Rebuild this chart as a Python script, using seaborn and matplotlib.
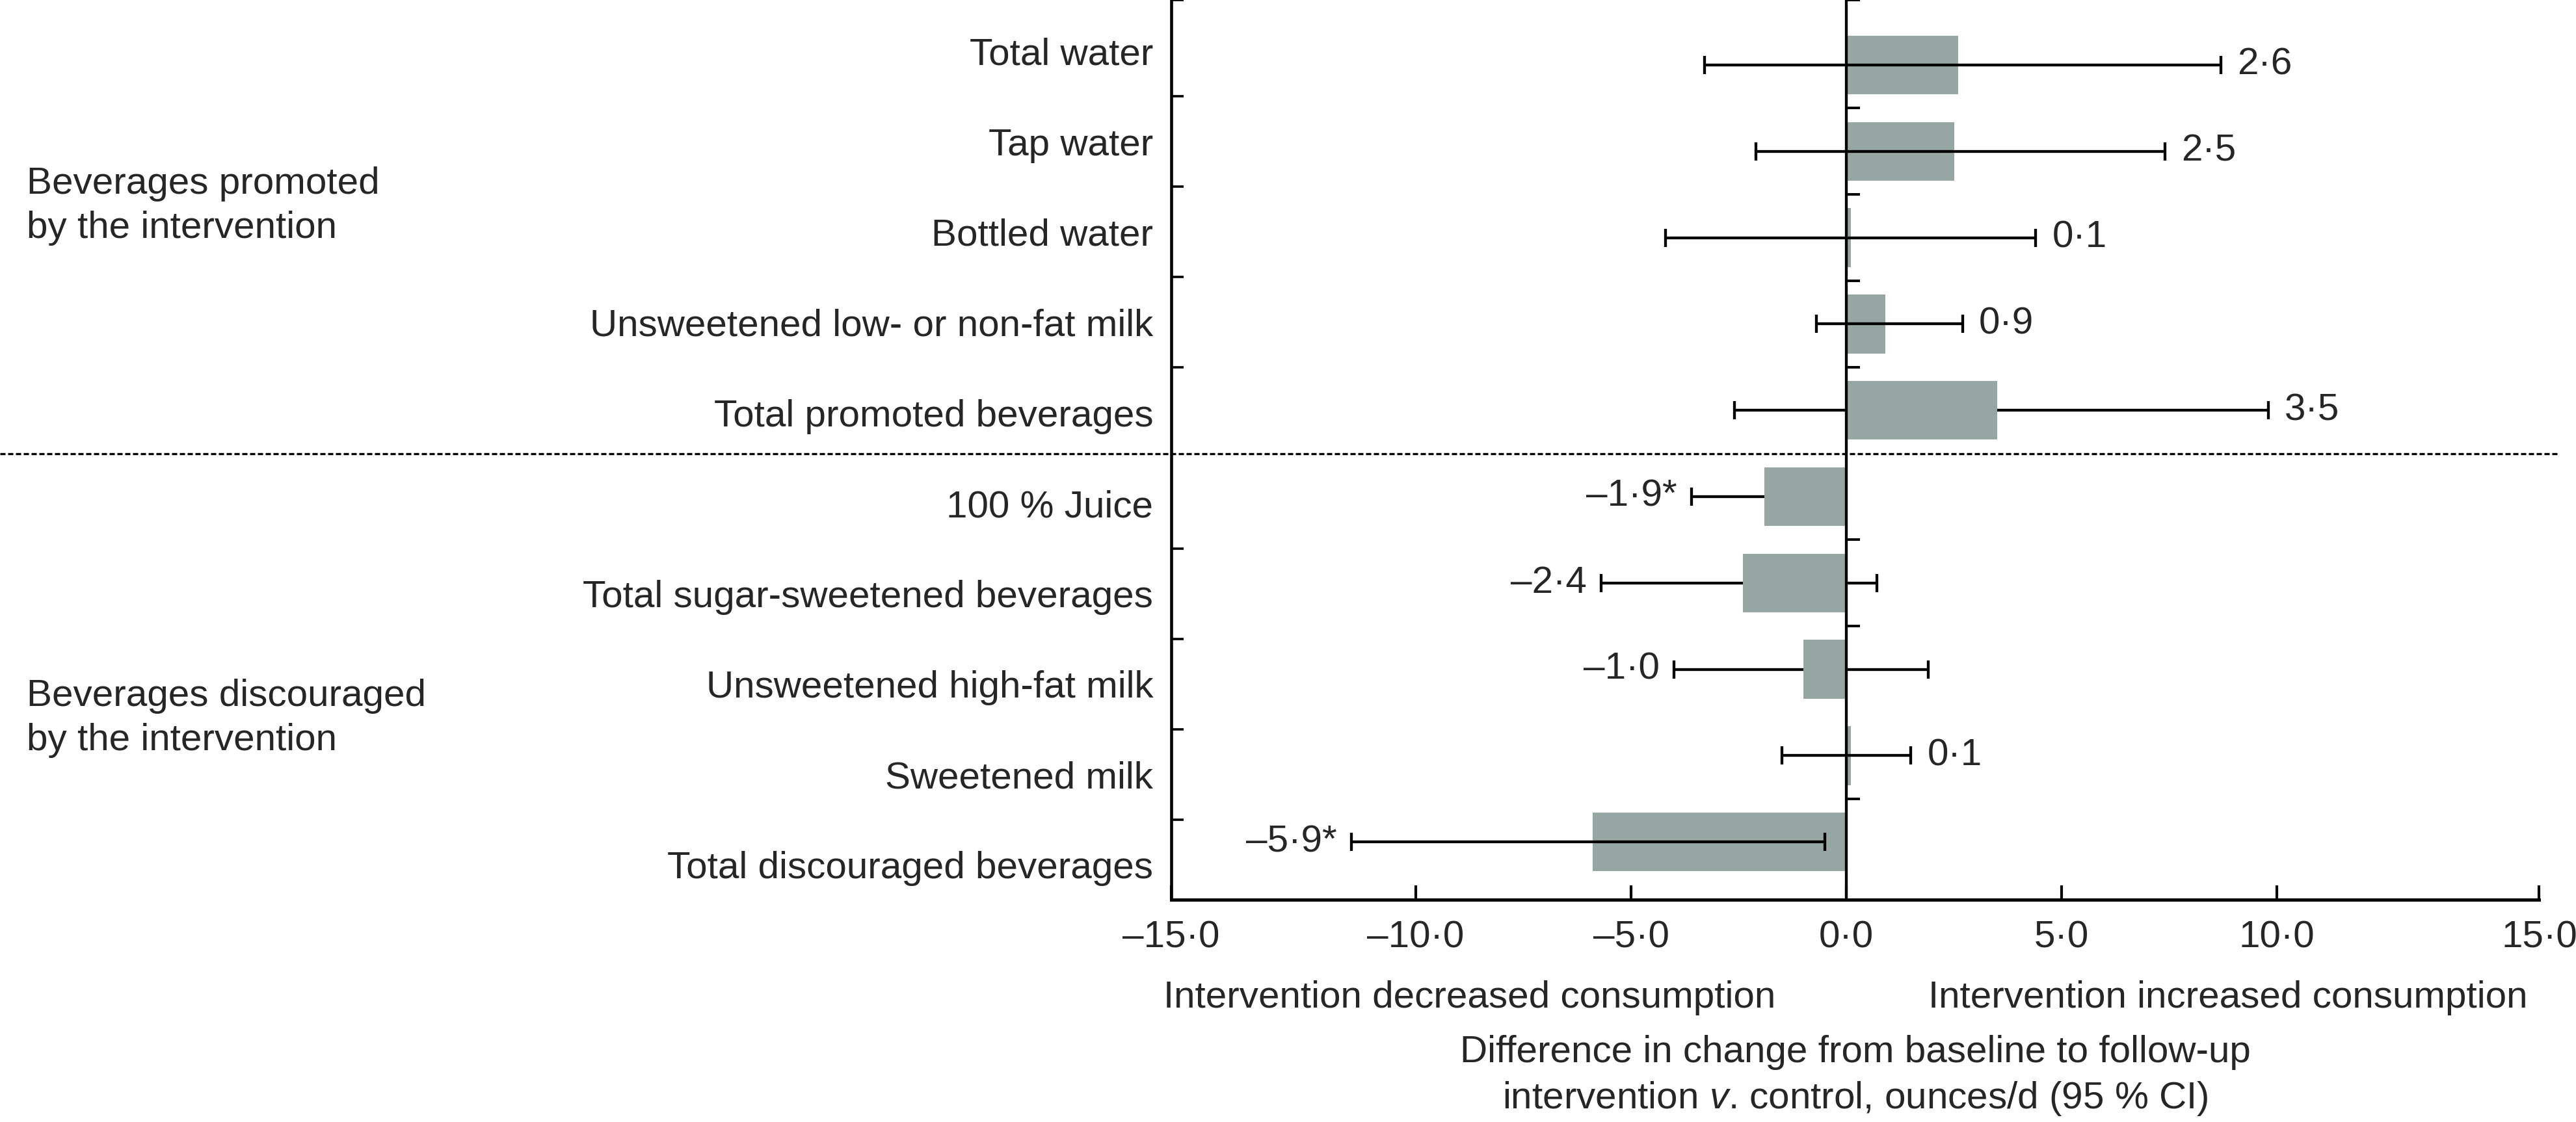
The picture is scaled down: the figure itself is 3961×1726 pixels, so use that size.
import numpy as np
import matplotlib
matplotlib.use("Agg")
import matplotlib.pyplot as plt
import matplotlib.transforms as mtransforms
import seaborn as sns

sns.set_style("ticks")
plt.rcParams["font.family"] = ["Liberation Sans", "DejaVu Sans"]
plt.rcParams["mathtext.fontset"] = "custom"
plt.rcParams["mathtext.rm"] = "Liberation Sans"
plt.rcParams["mathtext.it"] = "Liberation Sans:italic"

# beverages, top to bottom
promoted = ["Total water", "Tap water", "Bottled water",
            "Unsweetened low- or non-fat milk", "Total promoted beverages"]
discouraged = ["100 % Juice", "Total sugar-sweetened beverages",
               "Unsweetened high-fat milk", "Sweetened milk",
               "Total discouraged beverages"]
beverages = promoted + discouraged

# difference in change (intervention v. control), ounces/d, and 95 % CI
diff = [2.6, 2.5, 0.1, 0.9, 3.5, -1.9, -2.4, -1.0, 0.1, -5.9]
ci_low = [-3.3, -2.1, -4.2, -0.7, -2.6, -3.6, -5.7, -4.0, -1.5, -11.5]
ci_high = [8.7, 7.4, 4.4, 2.7, 9.8, -0.2, 0.7, 1.9, 1.5, -0.5]
signif = [False, False, False, False, False, True, False, False, False, True]

x_ticks = [-15, -10, -5, 0, 5, 10, 15]

FS = 42
bar_color = "#96a6a2"


def fmt(v):
    s = f"{abs(v):.1f}".replace(".", "\u00b7")
    return "\u2013" + s if v < 0 else s


fig = plt.figure(figsize=(39.61, 17.26), dpi=100)
ax = fig.add_axes([0.45468, 0.19815, 0.53105, 0.80185])

sns.barplot(x=diff, y=beverages, orient="h", color=bar_color, saturation=1,
            width=0.68, errorbar=None, linewidth=0, ax=ax)

pos = np.arange(len(beverages))
d = np.array(diff)
lo = np.array(ci_low)
hi = np.array(ci_high)

# CI lines: some sit behind the bars in the original
ci_front = np.array([True, True, True, True, False, False, False, False, True, True])
for front in (True, False):
    m = ci_front == front
    ax.errorbar(d[m], pos[m], xerr=[d[m] - lo[m], hi[m] - d[m]], fmt="none",
                ecolor="black", elinewidth=3.1, capsize=10, capthick=3.1,
                zorder=4 if front else 0.5)

# value labels next to the CI caps
for i in range(len(beverages)):
    txt = fmt(diff[i]) + ("*" if signif[i] else "")
    if diff[i] >= 0:
        ax.annotate(txt, xy=(hi[i], pos[i]), xytext=(18, 0),
                    textcoords="offset points", ha="left", va="center", fontsize=FS)
    else:
        ax.annotate(txt, xy=(lo[i], pos[i]), xytext=(-16, 0),
                    textcoords="offset points", ha="right", va="center", fontsize=FS)

x0, x1 = -15.68, 16.09
ax.set_xlim(x0, x1)
ax.set_ylim(9.669, -0.753)
ax.set_xticks([x0] + x_ticks[1:-1] + [x1], [fmt(t) for t in x_ticks])
ax.tick_params(axis="x", direction="in", length=15.6, width=3, pad=23,
               labelsize=FS, color="black")
ax.set_yticks([])
ax.set_ylabel("")
for s in ["top", "right", "left"]:
    ax.spines[s].set_visible(False)
ax.spines["bottom"].set_linewidth(3.6)
ax.spines["bottom"].set_color("black")

ax.set_xlabel("Difference in change from baseline to follow-up\n"
              "intervention $\\mathit{v}$. control, ounces/d (95 % CI)",
              fontsize=FS, linespacing=1.33)
ax.xaxis.set_label_coords(0.5, -0.1503)
ax.text(-0.0057, -0.12, "Intervention decreased consumption",
        transform=ax.transAxes, ha="left", va="baseline", fontsize=FS)
ax.text(0.5534, -0.12, "Intervention increased consumption",
        transform=ax.transAxes, ha="left", va="baseline", fontsize=FS)

n = len(beverages)
split = len(promoted) - 0.5

# category axis on the left
ax_lab = ax.twinx()
ax_lab.set_ylim(9.388, -0.568)
ax_lab.yaxis.tick_left()
ax_lab.set_yticks(pos, beverages)
ax_lab.set_yticks([-0.568] + [b for b in pos[:-1] + 0.5 if b != split], minor=True)
ax_lab.tick_params(axis="y", which="major", length=0, pad=20, labelsize=FS)
ax_lab.tick_params(axis="y", which="minor", direction="in", length=14, width=2.6,
                   color="black")
for s in ["top", "right", "bottom"]:
    ax_lab.spines[s].set_visible(False)
ax_lab.spines["left"].set_linewidth(3.3)
ax_lab.spines["left"].set_color("black")

# zero line with its own ticks
ax_zero = ax.twinx()
ax_zero.set_ylim(9.669, -0.753)
ax_zero.yaxis.tick_left()
ax_zero.spines["left"].set_position(("data", 0))
for s in ["top", "right", "bottom"]:
    ax_zero.spines[s].set_visible(False)
ax_zero.spines["left"].set_linewidth(3.1)
ax_zero.spines["left"].set_color("black")
ax_zero.set_yticks([-0.753, 0.5, 1.5, 2.5, 3.5, 5.5, 6.5, 8.5])
ax_zero.tick_params(axis="y", direction="in", length=15, width=2.8,
                    labelleft=False, color="black")

# group separator and group labels
trans = mtransforms.blended_transform_factory(fig.transFigure, ax.transData)
ax.plot([0, 0.993], [split, split], transform=trans, clip_on=False,
        color="black", lw=2.4, linestyle=(0, (2.4, 1.2)))

trans_lab = mtransforms.blended_transform_factory(fig.transFigure, ax_lab.transData)
fig.text(0.0104, 1.71, "Beverages promoted\nby the intervention",
         transform=trans_lab, ha="left", va="center", fontsize=FS, linespacing=1.33)
fig.text(0.0104, 7.38, "Beverages discouraged\nby the intervention",
         transform=trans_lab, ha="left", va="center", fontsize=FS, linespacing=1.33)

fig.savefig("out.png", dpi=100)
